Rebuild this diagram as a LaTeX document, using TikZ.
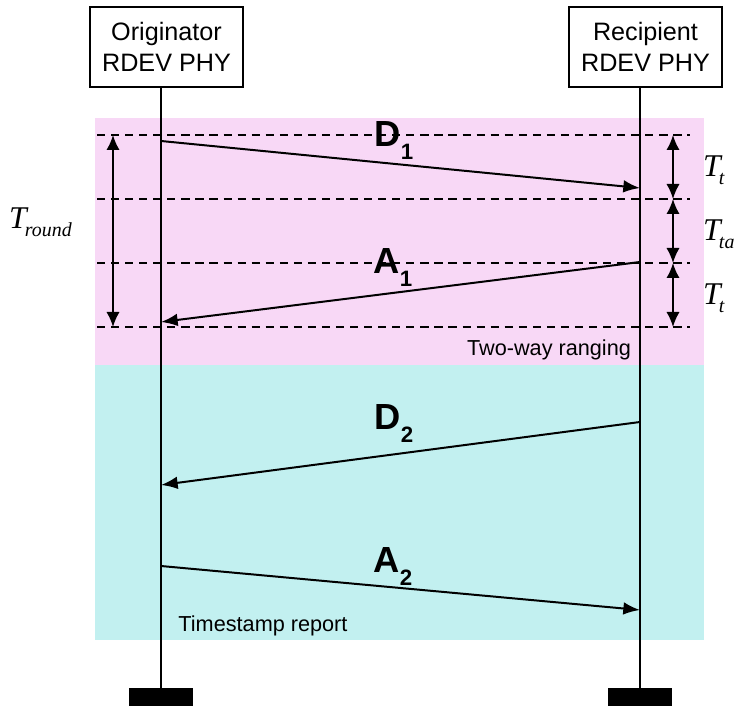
\documentclass[tikz,border=0pt]{standalone}
\usepackage{fontspec}
\setmainfont{Liberation Sans}
\newfontfamily\tfont{Liberation Serif}
\usepackage{tikz}
\usetikzlibrary{arrows.meta}
\definecolor{rangpink}{HTML}{F8D8F6}
\definecolor{stampcyan}{HTML}{C2F0F0}
\newcommand{\msgname}[2]{#1\kern0.5pt\raisebox{-11pt}{\fontsize{19}{19}\selectfont #2}}
\newcommand{\tname}[1]{{\tfont\itshape T\kern-1.5pt\raisebox{-7pt}{\fontsize{17}{17}\selectfont #1}}}

\begin{document}
\begin{tikzpicture}[x=0.3mm, y=-0.3mm,
		devbox/.style={draw, line width=1.8pt, fill=white, minimum width=45.9mm, minimum height=24mm, align=center, font=\fontsize{21.5}{26.5}\selectfont},
		foot/.style={fill=black, minimum width=19.2mm, minimum height=5.4mm, inner sep=0pt},
		life/.style={line width=1.7pt},
		level/.style={line width=1.7pt, dash pattern=on 7pt off 5pt},
		msg/.style={-{Latex[length=5mm, width=3.8mm]}, line width=1.7pt},
		span/.style={{Latex[length=4.5mm, width=4mm]}-{Latex[length=4.5mm, width=4mm]}, line width=1.7pt},
		msglabel/.style={anchor=base west, font=\fontsize{31}{33}\selectfont\bfseries},
		note/.style={font=\fontsize{18.5}{21}\selectfont},
		tlabel/.style={anchor=west, font=\fontsize{27}{29}\selectfont}]
	\useasboundingbox (0,0) rectangle (740,706);
	% phases
	\fill[rangpink] (95,118) rectangle (704,365);
	\fill[stampcyan] (95,365) rectangle (704,640);
	
	% devices and lifelines
	\node[devbox] (orig) at (166.5,47) {Originator\\RDEV PHY};
	\node[devbox] (recip) at (645.5,47) {Recipient\\RDEV PHY};
	\node[foot] (ofoot) at (161,697) {};
	\node[foot] (rfoot) at (640,697) {};
	\draw[life] (ofoot.north |- orig.south) -- (ofoot.north);
	\draw[life] (rfoot.north |- recip.south) -- (rfoot.north);
	
	% time levels
	\foreach \y in {135, 199, 263, 327}
		\draw[level] (97,\y) -- (690,\y);
	
	% messages
	\coordinate (d1s) at (161,141); \coordinate (d1e) at (640,188);
	\coordinate (a1s) at (640,262); \coordinate (a1e) at (161,322);
	\coordinate (d2s) at (640,422); \coordinate (d2e) at (161,485);
	\coordinate (a2s) at (161,566); \coordinate (a2e) at (640,610);
	\draw[msg] (d1s) -- (d1e);
	\draw[msg] (a1s) -- (a1e);
	\draw[msg] (d2s) -- (d2e);
	\draw[msg] (a2s) -- (a2e);
	\node[msglabel] (d1lab) at (370,147) {\msgname{D}{1}};
	\node[msglabel] (a1lab) at (369,274) {\msgname{A}{1}};
	\node[msglabel] (d2lab) at (370,430) {\msgname{D}{2}};
	\node[msglabel] (a2lab) at (369,573) {\msgname{A}{2}};
	
	% intervals
	\draw[span] (113,135) -- (113,327);
	\draw[span] (673,135) -- (673,199);
	\draw[span] (673,199) -- (673,263);
	\draw[span] (673,263) -- (673,327);
	\node[tlabel] (tround) at (5,222) {\tname{round}};
	\node[tlabel] (tt1) at (699,170) {\tname{t}};
	\node[tlabel] (tta) at (699,234) {\tname{ta}};
	\node[tlabel] (tt2) at (699,298) {\tname{t}};
	
	\node[note] (twoway) at (549,350) {Two-way ranging};
	\node[note] (stamp) at (263,626) {Timestamp report};
\end{tikzpicture}
\end{document}
